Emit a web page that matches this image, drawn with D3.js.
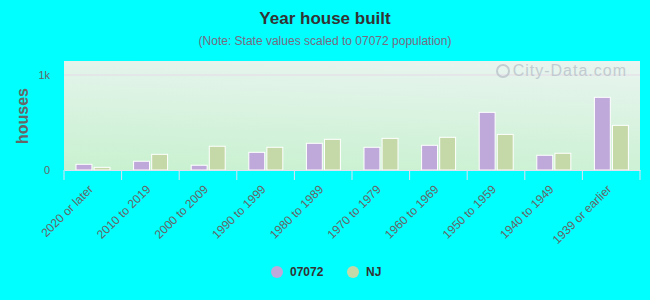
<!DOCTYPE html>
<html>
<head>
<meta charset="utf-8">
<script src="https://d3js.org/d3.v7.min.js"></script>
<style>
body { margin: 0; background: #00ffff; }
text { font-family: Arial, "Liberation Sans", sans-serif; }
</style>
</head>
<body>
<svg width="650" height="300"></svg>
<script>
// data
var categories = ["2020 or later", "2010 to 2019", "2000 to 2009", "1990 to 1999", "1980 to 1989",
                  "1970 to 1979", "1960 to 1969", "1950 to 1959", "1940 to 1949", "1939 or earlier"];
var zipValues = [60, 92, 50, 186, 281, 239, 260, 607, 155, 765];
var njValues = [28, 165, 250, 239, 323, 333, 344, 375, 176, 470];
var seriesNames = ["07072", "NJ"];
var seriesColors = ["#bfa8da", "#c5d9a8"];
var yTicks = [0, 1000];

var svg = d3.select("svg");
var margin = {top: 61, right: 10, bottom: 130, left: 64};
var width = 650 - margin.left - margin.right,
    height = 300 - margin.top - margin.bottom;

// background gradient
var defs = svg.append("defs");
var grad = defs.append("linearGradient").attr("id", "bg")
    .attr("x1", "0%").attr("y1", "100%").attr("x2", "30%").attr("y2", "-60%");
grad.append("stop").attr("offset", "0%").attr("stop-color", "#c8f1cf");
grad.append("stop").attr("offset", "100%").attr("stop-color", "#f6f6fd");

svg.append("text").attr("x", 325).attr("y", 24).attr("text-anchor", "middle")
    .style("font-size", "17px").style("font-weight", "bold").style("fill", "#333")
    .text("Year house built");
svg.append("text").attr("x", 325).attr("y", 45).attr("text-anchor", "middle")
    .style("font-size", "12px").style("fill", "#776b7f")
    .text("(Note: State values scaled to 07072 population)");

var g = svg.append("g").attr("transform", "translate(" + margin.left + "," + margin.top + ")");

g.append("rect").attr("width", width).attr("height", height).attr("fill", "url(#bg)");

var x = d3.scaleBand().domain(categories).range([0, width]);
var x1 = d3.scaleBand().domain(seriesNames).range([12, 46]).paddingInner(0.12);
var y = d3.scaleLinear().domain([0, 1000]).range([height, height - 95]);

// grid line
g.selectAll(".grid").data(yTicks.filter(function(d) { return d > 0; }))
  .enter().append("line")
    .attr("x1", 0).attr("x2", width)
    .attr("y1", function(d) { return y(d); }).attr("y2", function(d) { return y(d); })
    .attr("stroke", "#e6d9e6").attr("stroke-width", 1);

// watermark
var wm = g.append("g").attr("transform", "translate(" + (width - 13) + ",15)").style("opacity", 0.85);
wm.append("text").attr("text-anchor", "end")
    .style("font-size", "16px").style("letter-spacing", "1px").style("fill", "#bcc6cc")
    .text("City-Data.com");
wm.append("circle").attr("cx", -124).attr("cy", -5).attr("r", 6)
    .attr("fill", "none").attr("stroke", "#bcc6cc").attr("stroke-width", 2);

var rows = categories.map(function(c, i) { return {cat: c, vals: [zipValues[i], njValues[i]]}; });

var groups = g.selectAll(".grp").data(rows).enter().append("g")
    .attr("transform", function(d) { return "translate(" + x(d.cat) + ",0)"; });

groups.selectAll("rect").data(function(d) { return d.vals.map(function(v, j) { return {k: seriesNames[j], v: v, j: j}; }); })
  .enter().append("rect")
    .attr("x", function(d) { return x1(d.k); })
    .attr("y", function(d) { return y(d.v); })
    .attr("width", x1.bandwidth())
    .attr("height", function(d) { return height - y(d.v); })
    .attr("fill", function(d) { return seriesColors[d.j]; })
    .attr("stroke", "#fff").attr("stroke-width", 1);

// x axis
var xAxis = g.append("g").attr("transform", "translate(0," + height + ")")
    .call(d3.axisBottom(x).tickSize(0).tickFormat(""));
xAxis.select(".domain").attr("stroke", "#e0e0f0");
var bounds = categories.map(function(c) { return x(c); }).concat([width]);
xAxis.selectAll(".sep").data(bounds).enter().append("line")
    .attr("x1", function(d) { return d; }).attr("x2", function(d) { return d; })
    .attr("y1", 0).attr("y2", 10).attr("stroke", "#e0e0f0");

g.selectAll(".xl").data(categories).enter().append("text")
    .attr("transform", function(d) { return "translate(" + (x(d) + x.bandwidth() / 2 + 1) + "," + (height + 20) + ") rotate(-45)"; })
    .attr("text-anchor", "end")
    .style("font-size", "12px").style("fill", "#666")
    .text(function(d) { return d; });

// y axis
var yAxis = g.append("g")
    .call(d3.axisLeft(y).tickValues(yTicks).tickSize(0).tickPadding(14)
      .tickFormat(function(d) { return d === 0 ? "0" : d3.format("~s")(d); }));
yAxis.select(".domain").remove();
yAxis.selectAll("text").style("font-size", "11px").style("fill", "#666")
    .style("font-family", "Arial, 'Liberation Sans', sans-serif");

svg.append("text")
    .attr("transform", "translate(28," + (margin.top + 55) + ") rotate(-90)")
    .attr("text-anchor", "middle")
    .style("font-size", "16px").style("font-weight", "bold").style("fill", "#666")
    .text("houses");

// legend
var legendX = [277, 353];
var leg = svg.selectAll(".leg").data(seriesNames).enter().append("g")
    .attr("transform", function(d, i) { return "translate(" + legendX[i] + ",272)"; });
leg.append("circle").attr("r", 6).attr("fill", function(d, i) { return seriesColors[i]; });
leg.append("text").attr("x", 13).attr("y", 4)
    .style("font-size", "12px").style("font-weight", "bold").style("fill", "#333")
    .text(function(d) { return d; });
</script>
</body>
</html>
